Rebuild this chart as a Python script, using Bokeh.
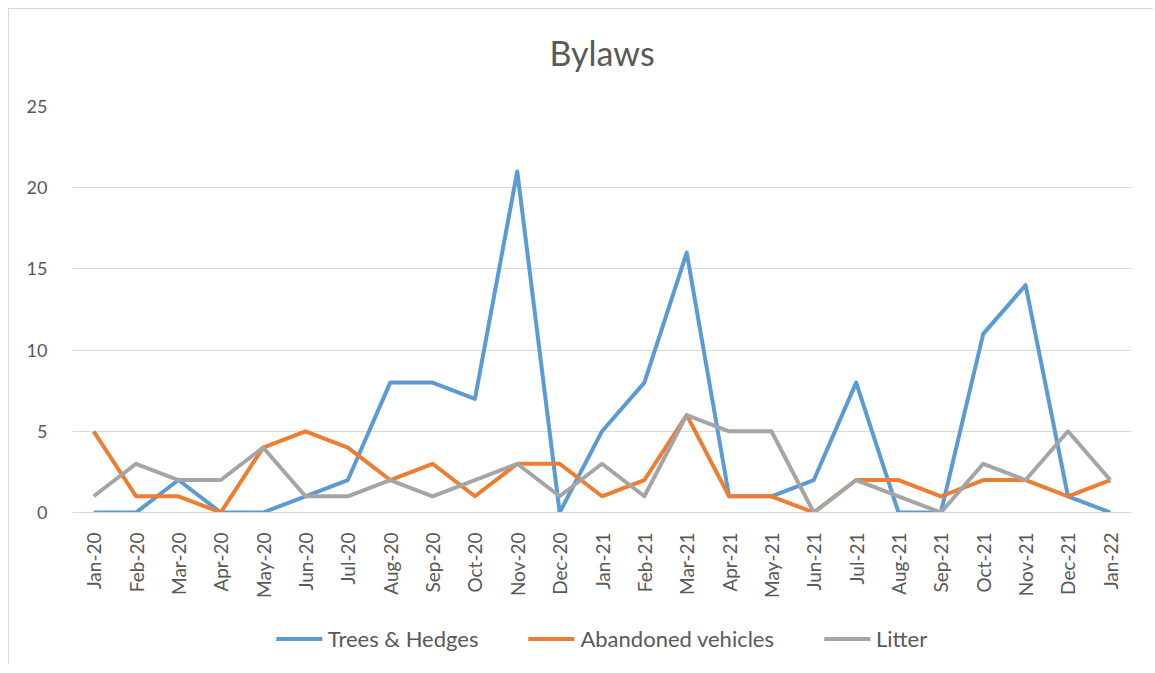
from bokeh.plotting import figure
from bokeh.layouts import column
from bokeh.models import FactorRange, Range1d, Legend, LegendItem, FixedTicker, Label
from bokeh.embed import file_html
from bokeh.resources import INLINE

months = ["Jan-20", "Feb-20", "Mar-20", "Apr-20", "May-20", "Jun-20", "Jul-20", "Aug-20",
          "Sep-20", "Oct-20", "Nov-20", "Dec-20", "Jan-21", "Feb-21", "Mar-21", "Apr-21",
          "May-21", "Jun-21", "Jul-21", "Aug-21", "Sep-21", "Oct-21", "Nov-21", "Dec-21", "Jan-22"]
trees_hedges = [0, 0, 2, 0, 0, 1, 2, 8, 8, 7, 21, 0, 5, 8, 16, 1, 1, 2, 8, 0, 0, 11, 14, 1, 0]
abandoned_vehicles = [5, 1, 1, 0, 4, 5, 4, 2, 3, 1, 3, 3, 1, 2, 6, 1, 1, 0, 2, 2, 1, 2, 2, 1, 2]
litter = [1, 3, 2, 2, 4, 1, 1, 2, 1, 2, 3, 1, 3, 1, 6, 5, 5, 0, 2, 1, 0, 3, 2, 5, 2]
series_names = ["Trees & Hedges", "Abandoned vehicles", "Litter"]
series_colors = ["#5b9bd5", "#ed7d31", "#a5a5a5"]
y_ticks = [0, 5, 10, 15, 20, 25]
chart_title = "Bylaws"

FONT = "Lato"
TXT = "#595959"
W = 1144


def strip(height):
    f = figure(width=W, height=height, x_range=Range1d(0, 1), y_range=Range1d(0, 1),
               output_backend="svg", toolbar_location=None,
               min_border_left=0, min_border_right=0, min_border_top=0, min_border_bottom=0)
    f.axis.visible = False
    f.grid.grid_line_color = None
    f.outline_line_color = None
    return f


# title strip
tt = strip(86)
tt.add_layout(Label(x=0.5, y=0.5, text=chart_title, text_align="center", text_baseline="middle",
                    text_font=FONT, text_font_size="34px", text_color=TXT))

# main chart
p = figure(frame_width=1059, frame_height=406, x_range=FactorRange(*months, range_padding=0),
           y_range=Range1d(0, 25), output_backend="svg", toolbar_location=None,
           min_border_left=63, min_border_right=22, min_border_top=11, min_border_bottom=100)
p.outline_line_color = None

for ys, c in zip([trees_hedges, abandoned_vehicles, litter], series_colors):
    p.line(months, ys, line_color=c, line_width=4, line_join="round")

p.yaxis.ticker = FixedTicker(ticks=y_ticks)
p.yaxis.axis_line_color = None
p.yaxis.major_tick_line_color = None
p.yaxis.minor_tick_line_color = None
p.yaxis.major_label_text_font = FONT
p.yaxis.major_label_text_font_size = "18px"
p.yaxis.major_label_text_color = TXT
p.yaxis.major_label_standoff = 19

p.xaxis.axis_line_color = "#d9d9d9"
p.xaxis.major_tick_line_color = None
p.xaxis.minor_tick_line_color = None
p.xaxis.major_label_orientation = 1.5708
p.xaxis.major_label_text_font = FONT
p.xaxis.major_label_text_font_size = "19px"
p.xaxis.major_label_text_color = TXT
p.xaxis.major_label_standoff = 14

p.xgrid.grid_line_color = None
p.ygrid.grid_line_color = "#d9d9d9"
p.ygrid.grid_line_width = 1

# legend strip below the chart (legend-only renderers hold no visible data)
lg = strip(52)
items = []
nan = float("nan")
for name, c in zip(series_names, series_colors):
    r = lg.line([nan, nan], [nan, nan], line_color=c, line_width=4, line_cap="round")
    items.append(LegendItem(label=name, renderers=[r]))
legend = Legend(items=items, orientation="horizontal", location="center",
                label_text_font=FONT, label_text_font_size="22px", label_text_color=TXT,
                glyph_width=46, spacing=50, border_line_color=None, background_fill_alpha=0,
                label_standoff=6, margin=0, padding=2)
lg.add_layout(legend, "center")

layout = column(tt, p, lg, spacing=0)
layout.styles = {"margin-left": "8px", "margin-top": "8px",
                 "border-left": "1px solid #d9d9d9", "border-top": "1px solid #d9d9d9"}

open("out.html", "w").write(file_html(layout, INLINE))
